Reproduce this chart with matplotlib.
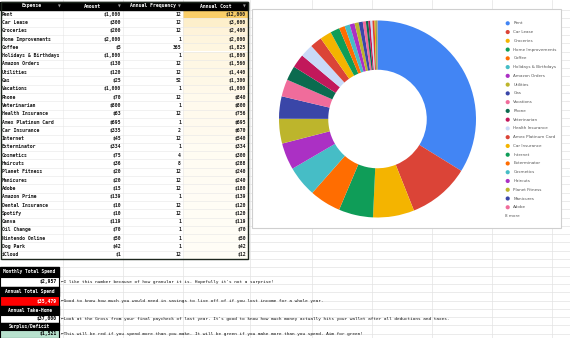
import matplotlib.pyplot as plt
from matplotlib.patches import Rectangle
import matplotlib.colors as mcolors
import numpy as np

# --- data ---
expenses = [
    "Rent", "Car Lease", "Groceries", "Home Improvements", "Coffee",
    "Holidays & Birthdays", "Amazon Orders", "Utilities", "Gas", "Vacations",
    "Phone", "Veterinarian", "Health Insurance", "Amex Platinum Card",
    "Car Insurance", "Internet", "Exterminator", "Cosmetics", "Haircuts",
    "Planet Fitness", "Manicures", "Adobe", "Amazon Prime", "Dental Insurance",
    "Spotify", "Canva", "Oil Change", "Nintendo Online", "Dog Park", "iCloud",
]
amounts = [1000, 300, 200, 2000, 5, 1800, 130, 120, 25, 1000, 70, 800, 63, 695,
           335, 45, 334, 75, 36, 20, 20, 15, 139, 10, 10, 119, 70, 50, 42, 1]
frequency = [12, 12, 12, 1, 365, 1, 12, 12, 52, 1, 12, 1, 12, 1,
             2, 12, 1, 4, 8, 12, 12, 12, 1, 12, 12, 1, 1, 1, 1, 12]
annual = [a * f for a, f in zip(amounts, frequency)]

summary_labels = ["Monthly Total Spend", "Annual Total Spend", "Annual Take-Home", "Surplus/Deficit"]
summary_values = [2957, 35479, 37000, 1521]
summary_notes = [
    "\u2190I like this number because of how granular it is. Hopefully it's not a surprise!",
    "\u2190Good to know how much you would need in savings to live off of if you lost income for a whole year.",
    "\u2190Look at the Gross from your final paycheck of last year. It's good to know how much money actually hits your wallet after all deductions and taxes.",
    "\u2190This will be red if you spend more than you make. It will be green if you make more than you spend. Aim for green!",
]

palette = ["#4285F4", "#DB4437", "#F4B400", "#0F9D58", "#FF6D01", "#46BDC6",
           "#AB30C4", "#BDB52C", "#3A46A8", "#F06C9B", "#0B6B4F", "#C2185B", "#C9DAF8"]
colors = [palette[0]] + [palette[1 + i % 12] for i in range(len(expenses) - 1)]

MONO = "DejaVu Sans Mono"
W, H = 570, 338

fig = plt.figure(figsize=(W / 100, H / 100), dpi=100)
bg = fig.add_axes([0, 0, 1, 1])
bg.set_xlim(0, W)
bg.set_ylim(H, 0)
bg.axis("off")

# sheet gridlines
row_h = 8.3
for y in np.arange(10, H, row_h):
    bg.plot([0, W], [y, y], color="#e3e3e3", lw=0.5, zorder=0)
for x in [63, 123, 183, 250, 312, 372, 432, 492, 552]:
    bg.plot([x, x], [0, H], color="#e3e3e3", lw=0.5, zorder=0)

# --- expense table ---
col_x = [0, 63, 123, 183, 248]
headers = ["Expense", "Amount", "Annual Frequency", "Annual Cost"]
top = 1.5
bg.add_patch(Rectangle((0, top), col_x[-1], 10 - top, color="black", zorder=2))
for i, h in enumerate(headers):
    cx = (col_x[i] + col_x[i + 1]) / 2
    bg.text(cx, 6, h, color="white", fontsize=3.4, family=MONO, weight="bold",
            ha="center", va="center", zorder=3)
    bg.text(col_x[i + 1] - 4, 6, "\u25bc", color="#9a9a9a", fontsize=2.6,
            ha="center", va="center", zorder=3)

lo = mcolors.to_rgb("#FFFDF6")
hi = mcolors.to_rgb("#F9CD68")
vmax = max(annual)
for r, (name, amt, fq, ac) in enumerate(zip(expenses, amounts, frequency, annual)):
    y0 = 10 + r * row_h
    yc = y0 + row_h / 2
    bg.add_patch(Rectangle((0, y0), col_x[3], row_h, facecolor="white", edgecolor="none", zorder=1))
    t = ac / vmax
    cell = tuple(l + (h - l) * t for l, h in zip(lo, hi))
    bg.add_patch(Rectangle((col_x[3], y0), col_x[4] - col_x[3], row_h,
                           facecolor=cell, edgecolor="none", zorder=1))
    bg.plot([0, col_x[-1]], [y0 + row_h, y0 + row_h], color="#e6e6e6", lw=0.4, zorder=1.5)
    kw = dict(fontsize=3.45, family=MONO, weight="bold", va="center", zorder=3, color="#1a1a1a")
    bg.text(2, yc, name, ha="left", **kw)
    bg.text(col_x[2] - 2, yc, f"${amt:,}", ha="right", **kw)
    bg.text(col_x[3] - 2, yc, f"{fq}", ha="right", **kw)
    bg.text(col_x[4] - 2, yc, f"${ac:,}", ha="right", **kw)
for x in col_x[1:-1]:
    bg.plot([x, x], [10, 10 + len(expenses) * row_h], color="#e6e6e6", lw=0.4, zorder=1.5)
table_bottom = 10 + len(expenses) * row_h
bg.add_patch(Rectangle((0.5, top), col_x[-1] - 0.5, table_bottom - top, fill=False,
                       edgecolor="#1d261d", lw=1.0, zorder=4))

# --- summary boxes ---
edges = [267, 277, 287, 296, 306, 315, 322.5, 330, 338]
value_fill = ["white", "#FF0000", "white", "#B7E1CD"]
value_text = ["black", "white", "black", "black"]
bx = 59
for k in range(4):
    h0, h1, v1 = edges[2 * k], edges[2 * k + 1], edges[2 * k + 2]
    bg.add_patch(Rectangle((0, h0), bx, h1 - h0, color="black", zorder=2))
    bg.text(bx / 2, (h0 + h1) / 2, summary_labels[k], color="white", fontsize=3.3,
            family=MONO, weight="bold", ha="center", va="center", zorder=3)
    bg.add_patch(Rectangle((0, h1), bx, v1 - h1, facecolor=value_fill[k],
                           edgecolor="black", lw=0.8, zorder=2))
    bg.text(bx - 2, (h1 + v1) / 2, f"${summary_values[k]:,}", color=value_text[k],
            fontsize=3.4, family=MONO, weight="bold", ha="right", va="center", zorder=3)
    bg.text(bx + 2, (h1 + v1) / 2, summary_notes[k], color="#111111", fontsize=3.2,
            family=MONO, ha="left", va="center", zorder=3)

# --- chart card ---
bg.add_patch(Rectangle((252, 9.3), 309, 219, facecolor="white", edgecolor="#cfcfcf",
                       lw=0.8, zorder=5))

cx, cy, rad = 377.5, 119, 98.5
ax = fig.add_axes([(cx - rad) / W, 1 - (cy + rad) / H, 2 * rad / W, 2 * rad / H], zorder=6)
ax.pie(annual, colors=colors, startangle=90, counterclock=False, radius=1,
       wedgeprops=dict(width=0.5, edgecolor="none"))
ax.set_xlim(-1, 1)
ax.set_ylim(-1, 1)
ax.set_aspect("equal")
ax.axis("off")

# legend (first 22 entries, rest collapsed)
shown = 22
step = 8.76
for i in range(shown):
    ly = 23.3 + i * step
    bg.scatter([507.7], [ly], s=9, color=colors[i], edgecolors="none", zorder=7)
    bg.text(513.3, ly, expenses[i], fontsize=3.0, color="#555555", ha="left",
            va="center", zorder=7)
bg.text(505, 23.3 + shown * step - 0.5, f"{len(expenses) - shown} more", fontsize=3.0,
        color="#555555", ha="left", va="center", zorder=7)

fig.savefig("out.png", dpi=100)
